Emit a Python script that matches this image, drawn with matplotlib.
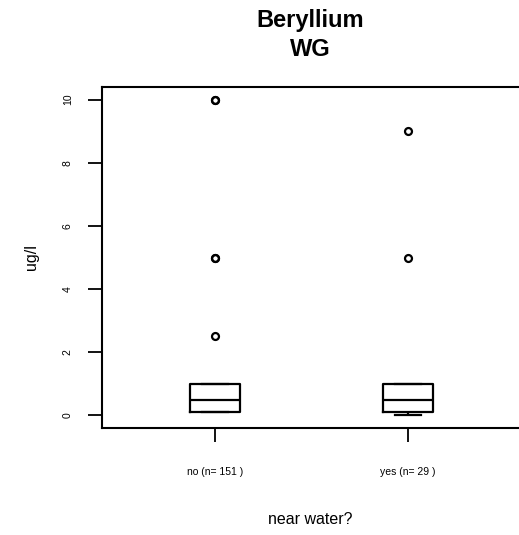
import numpy as np
import matplotlib.pyplot as plt

plt.rcParams['font.family'] = ['Liberation Sans', 'DejaVu Sans']

groups = ['no (n= 151 )', 'yes (n= 29 )']
# box stats: lower whisker, q1, median, q3, upper whisker
whislo = [0.1, 0.0]
q1 = [0.1, 0.1]
med = [0.5, 0.5]
q3 = [1.0, 1.0]
whishi = [1.0, 1.0]
outliers = [[2.5, 5, 5, 10, 10], [5, 9]]

stats = []
for i in range(len(groups)):
    stats.append({'whislo': whislo[i], 'q1': q1[i], 'med': med[i], 'q3': q3[i],
                  'whishi': whishi[i], 'fliers': outliers[i]})

fig = plt.figure(figsize=(5.19, 5.35), dpi=100)
ax = fig.add_axes([102 / 519, (535 - 428) / 535, (518 - 102) / 519, (428 - 87) / 535])

ax.bxp(stats, positions=[1, 2], widths=0.26, showcaps=True,
       boxprops=dict(color='black', linewidth=1.6),
       medianprops=dict(color='black', linewidth=1.6),
       whiskerprops=dict(color='black', linewidth=1.6, linestyle='--'),
       capprops=dict(color='black', linewidth=1.6),
       flierprops=dict(marker='o', markerfacecolor='none', markeredgecolor='black',
                       markersize=5, markeredgewidth=1.6))

ax.set_xlim(1 - 113 / 193, 1 + 303 / 193)
ax.set_ylim(-0.4, 10.4)
ax.set_xticks([1, 2])
ax.set_xticklabels(groups, fontsize=7.5)
ax.set_yticks([0, 2, 4, 6, 8, 10])
ax.set_yticklabels(['0', '2', '4', '6', '8', '10'], fontsize=7.5, rotation=90, va='center')
ax.tick_params(axis='both', length=10, width=1.3)
ax.tick_params(axis='y', pad=11)
ax.tick_params(axis='x', pad=18)
for s in ax.spines.values():
    s.set_linewidth(1.5)
ax.spines['right'].set_visible(False)

ax.set_ylabel('ug/l', fontsize=11.5)
ax.yaxis.set_label_coords((31 - 102) / 416, 0.5)
ax.set_xlabel('near water?', fontsize=11.5)
ax.xaxis.set_label_coords(0.5, -(520 - 428) / 341)
ax.xaxis.label.set_va('center')
ax.yaxis.label.set_va('center')
ax.set_title('Beryllium\nWG', fontsize=17, fontweight='bold', pad=22, linespacing=1.35)

fig.savefig('out.png', dpi=100)
